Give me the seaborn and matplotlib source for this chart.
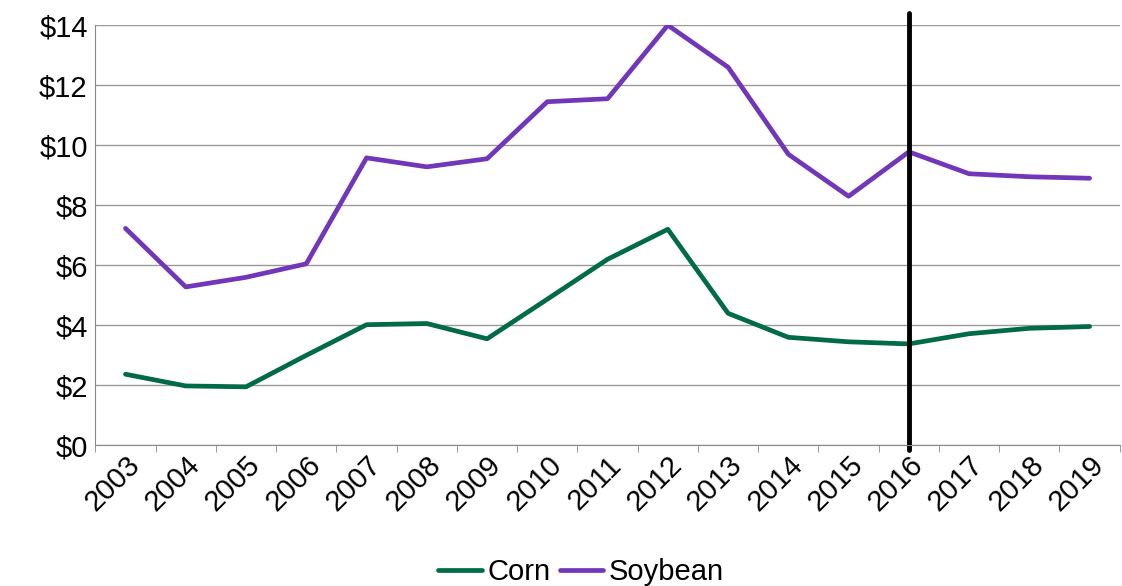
import matplotlib.pyplot as plt
import seaborn as sns
import pandas as pd

years = [str(y) for y in range(2003, 2020)]
corn = [2.37, 1.98, 1.95, 3.0, 4.02, 4.06, 3.55, 4.87, 6.2, 7.2, 4.4, 3.6, 3.45, 3.38, 3.72, 3.9, 3.96]
soybean = [7.23, 5.28, 5.6, 6.05, 9.58, 9.28, 9.55, 11.45, 11.55, 14.0, 12.6, 9.7, 8.3, 9.78, 9.05, 8.95, 8.9]
marker_year = "2016"

sns.set_style("white")
plt.rcParams["font.family"] = ["Liberation Sans", "DejaVu Sans"]

df = pd.DataFrame({"Year": years * 2,
                   "Price": corn + soybean,
                   "Crop": ["Corn"] * len(years) + ["Soybean"] * len(years)})
df["x"] = list(range(len(years))) * 2

fig, ax = plt.subplots(figsize=(11.22, 5.86), dpi=100)
fig.subplots_adjust(left=0.085, right=0.998, top=0.957, bottom=0.24)
sns.lineplot(data=df, x="x", y="Price", hue="Crop",
             palette={"Corn": "#006B45", "Soybean": "#7236B8"},
             linewidth=3.4, ax=ax)

ax.set_xlim(-0.5, len(years) - 0.5)
ax.set_ylim(0, 14)
ax.set_yticks(range(0, 15, 2))
ax.set_yticklabels([f"${v}" for v in range(0, 15, 2)], fontsize=21, color="black")
ax.set_xticks(range(len(years)))
ax.set_xticklabels(years, rotation=45, ha="right", rotation_mode="anchor",
                   fontsize=21, color="black")
ax.set_xticks([i - 0.5 for i in range(len(years) + 1)], minor=True)
ax.tick_params(axis="x", which="major", length=0, pad=4)
ax.tick_params(axis="x", which="minor", length=5, color="#888888", bottom=True)
ax.tick_params(axis="y", pad=2)
ax.yaxis.grid(True, color="#999999", linewidth=1)
ax.set_xlabel("")
ax.set_ylabel("")
for s in ["top", "right"]:
    ax.spines[s].set_visible(False)
for s in ["left", "bottom"]:
    ax.spines[s].set_color("#888888")

ax.axvline(years.index(marker_year), ymin=-0.01, ymax=1.03, color="black",
           linewidth=3.5, clip_on=False)

leg = ax.legend(loc="lower center", ncol=2, frameon=False, fontsize=21,
                handlelength=1.5, columnspacing=0.3, handletextpad=0.2)
leg.set_bbox_to_anchor((0.518, -0.045), transform=fig.transFigure)
for t in leg.get_texts():
    t.set_color("black")
fig.savefig("out.png")
